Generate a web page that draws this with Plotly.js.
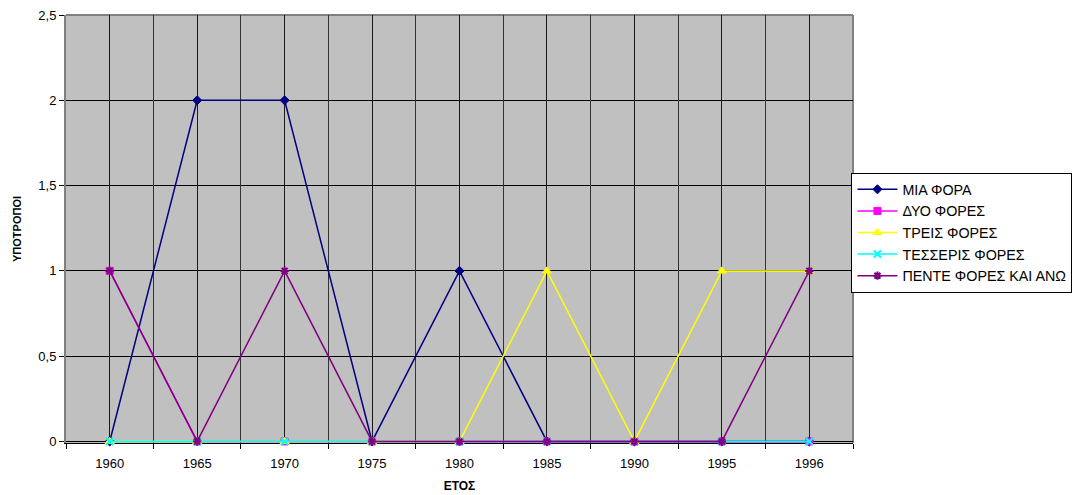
<!DOCTYPE html>
<html><head><meta charset="utf-8">
<script src="https://cdn.plot.ly/plotly-3.0.1.min.js"></script>
<style>html,body{margin:0;padding:0;background:#fff}#chart{width:1086px;height:495px}</style>
</head><body><div id="chart"></div>
<script>
const years = ['1960','1965','1970','1975','1980','1985','1990','1995','1996'];
const miaFora = [0, 2, 2, 0, 1, 0, 0, 0, 0];
const dyoFores = [1, 0, 0, 0, 0, 0, 0, 0, 0];
const treisFores = [0, 0, 0, 0, 0, 1, 0, 1, 1];
const tesserisFores = [0, 0, 0, 0, 0, 0, 0, 0, 0];
const penteFores = [1, 0, 1, 0, 0, 0, 0, 0, 1];
const seriesNames = ['ΜΙΑ ΦΟΡΑ','ΔΥΟ ΦΟΡΕΣ','ΤΡΕΙΣ ΦΟΡΕΣ','ΤΕΣΣΕΡΙΣ ΦΟΡΕΣ','ΠΕΝΤΕ ΦΟΡΕΣ ΚΑΙ ΑΝΩ'];
const yTicks = [0, 0.5, 1, 1.5, 2, 2.5];

const styles = [
  {color:'#000080', symbol:'diamond', size:7},
  {color:'#FF00FF', symbol:'square', size:7},
  {color:'#FFFF00', symbol:'triangle-up', size:8},
  {color:'#00FFFF', symbol:'x-thin', size:7},
  {color:'#800080', symbol:'asterisk', size:7}
];
const vals = [miaFora, dyoFores, treisFores, tesserisFores, penteFores];
const traces = vals.map((v,i)=>({
  x: years, y: v, name: seriesNames[i], type:'scatter', mode:'lines+markers',
  line:{color:styles[i].color, width:1.5},
  marker:{color:styles[i].color, symbol:styles[i].symbol, size:styles[i].size,
          line:{color:styles[i].color, width: (i>=3)?2:1}},
  cliponaxis:false
}));
traces.push({x:[-0.5,8.5], y:[0,0], xaxis:'x2', yaxis:'y', mode:'none', showlegend:false, hoverinfo:'skip', type:'scatter'});

const font = {family:'"Liberation Sans", Arial, sans-serif', color:'#000'};
const layout = {
  width:1086, height:495,
  margin:{l:66, r:233, t:15, b:52, autoexpand:false},
  paper_bgcolor:'#fff', plot_bgcolor:'#C0C0C0',
  separators:',.',
  font: Object.assign({size:13}, font),
  showlegend:true,
  legend:{x:0.998, xanchor:'left', y:0.632, yanchor:'top', bgcolor:'#fff',
          bordercolor:'#000', borderwidth:1, font:Object.assign({size:14.3}, font),
          tracegroupgap:0, itemwidth:40},
  xaxis:{type:'category', range:[-0.5,8.5], showgrid:true, gridcolor:'#1a1a1a', gridwidth:1,
         ticks:'', showline:true, linecolor:'#000', linewidth:1, zeroline:false, layer:'below traces',
         tickfont:Object.assign({size:13}, font), ticklabelstandoff:8, fixedrange:true,
         title:{text:'ΕΤΟΣ', font:Object.assign({size:12, weight:'bold'}, font), standoff:12}},
  xaxis2:{overlaying:'x', anchor:'y', side:'bottom', range:[-0.5,8.5], tick0:-0.5, dtick:1,
          showgrid:true, gridcolor:'#333', gridwidth:1, showticklabels:false, layer:'below traces',
          ticks:'outside', ticklen:5, tickcolor:'#000', showline:false, zeroline:false},
  yaxis:{range:[-0.009,2.5], tickvals:yTicks, showgrid:true, gridcolor:'#000', gridwidth:1,
         ticks:'outside', ticklen:5, tickcolor:'#000', showline:true, linecolor:'#808080', linewidth:2,
         mirror:false, zeroline:false, layer:'below traces', tickfont:Object.assign({size:13}, font),
         title:{text:'ΥΠΟΤΡΟΠΟΙ', font:Object.assign({size:11, weight:'bold'}, font), standoff:14}},
  shapes:[
    {type:'line', xref:'paper', yref:'paper', x0:0, x1:1, y0:1, y1:1, layer:'below', line:{color:'#808080', width:2}},
    {type:'line', xref:'paper', yref:'paper', x0:1, x1:1, y0:0, y1:1, layer:'below', line:{color:'#808080', width:2}}
  ]
};
Plotly.newPlot('chart', traces, layout, {staticPlot:true});
</script></body></html>
